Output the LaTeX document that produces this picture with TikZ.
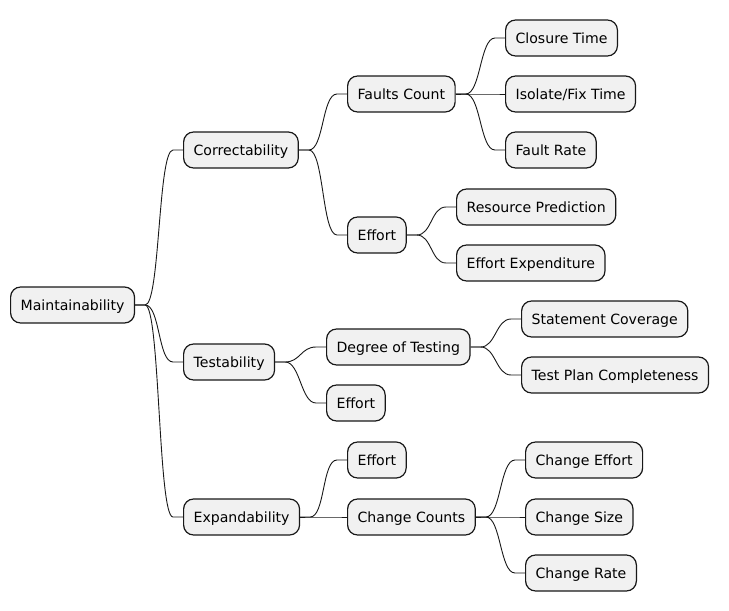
\documentclass[tikz,border=0pt]{standalone}
\usepackage{fontspec}
\setmainfont{DejaVu Sans}
\definecolor{nodefill}{HTML}{F1F1F1}
\definecolor{nodeline}{HTML}{181818}
\begin{document}
\begin{tikzpicture}[x=1pt,y=-1pt,
  mm/.style={draw=nodeline, line width=1.2pt, fill=nodefill, rounded corners=10pt,
    anchor=west, minimum height=36pt, inner xsep=10pt, inner ysep=0pt,
    text height=14pt, text depth=3pt,
    font=\fontsize{14.1}{16}\selectfont, text=black},
  link/.style={draw=nodeline, line width=0.9pt}]
\useasboundingbox (0,0) rectangle (729,611);
\newcommand{\lnk}[2]{\draw[link] (#1.east) -- ++(10,0) .. controls +(15,0) and +(-15,0) .. ([xshift=-10pt]#2.west) -- (#2.west);}
\node[mm] (M) at (10,305) {Maintainability};
\node[mm] (C) at (183,150) {Correctability};
\node[mm] (T) at (183,362) {Testability};
\node[mm] (E) at (183,517) {Expandability};
\node[mm] (FC) at (347,94) {Faults Count};
\node[mm] (EFa) at (347,235) {Effort};
\node[mm] (DT) at (326,347) {Degree of Testing};
\node[mm] (EFb) at (326,403) {Effort};
\node[mm] (EFc) at (347,460) {Effort};
\node[mm] (CC) at (347,517) {Change Counts};
\node[mm] (CT) at (505,38) {Closure Time};
\node[mm] (IF) at (505,94) {Isolate/Fix Time};
\node[mm] (FR) at (505,150) {Fault Rate};
\node[mm] (RP) at (456,207) {Resource Prediction};
\node[mm] (EE) at (456,263) {Effort Expenditure};
\node[mm] (SC) at (521,319) {Statement Coverage};
\node[mm] (TP) at (521,375) {Test Plan Completeness};
\node[mm] (CE) at (525,460) {Change Effort};
\node[mm] (CS) at (525,517) {Change Size};
\node[mm] (CR) at (525,573) {Change Rate};
\lnk{M}{C}\lnk{M}{T}\lnk{M}{E}
\lnk{C}{FC}\lnk{C}{EFa}
\lnk{T}{DT}\lnk{T}{EFb}
\lnk{E}{EFc}\lnk{E}{CC}
\lnk{FC}{CT}\lnk{FC}{IF}\lnk{FC}{FR}
\lnk{EFa}{RP}\lnk{EFa}{EE}
\lnk{DT}{SC}\lnk{DT}{TP}
\lnk{CC}{CE}\lnk{CC}{CS}\lnk{CC}{CR}
\end{tikzpicture}
\end{document}
